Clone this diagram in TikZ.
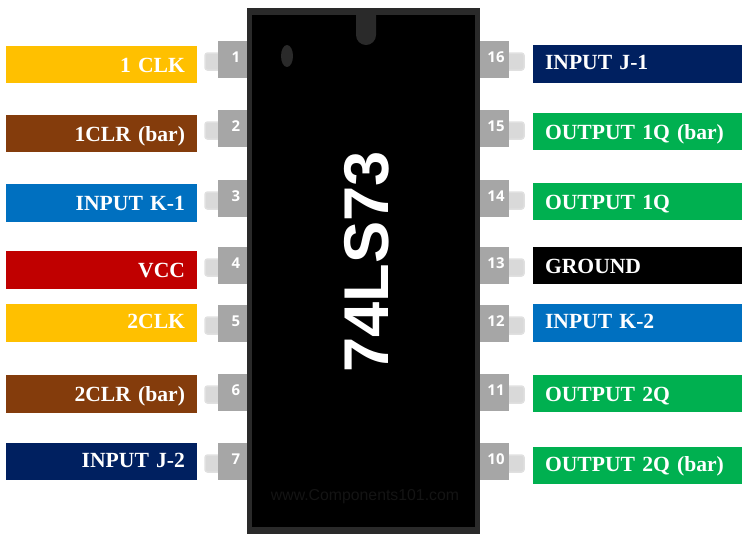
\documentclass[tikz,border=0pt]{standalone}
\usepackage{fontspec}
\setmainfont[WordSpace=0.75]{Liberation Serif}
\newfontfamily\pinfont{Open Sans}
\newfontfamily\chipfont{Liberation Sans}
\definecolor{clkyellow}{HTML}{FFC000}
\definecolor{clrbrown}{HTML}{843C0C}
\definecolor{inblue}{HTML}{0070C0}
\definecolor{vccred}{HTML}{C00000}
\definecolor{jnavy}{HTML}{002060}
\definecolor{outgreen}{HTML}{00B050}
\definecolor{pingrey}{HTML}{A6A6A6}
\definecolor{tabgrey}{HTML}{D9D9D9}
\definecolor{chipedge}{HTML}{2A2A2A}
\tikzset{
	leftlabel/.style={rectangle, inner xsep=0.24cm, inner ysep=0pt, minimum height=0.75cm, text width=3.34cm, align=right, text=white, font=\fontsize{12.3}{12.3}\selectfont\bfseries, text height=9.3pt, text depth=0.7pt},
	rightlabel/.style={leftlabel, text width=3.70cm, align=left},
	raised/.style={text height=8.2pt, text depth=1.8pt},
	pinbox/.style={fill=pingrey},
	pintab/.style={fill=tabgrey, draw=black!12, line width=0.3mm, rounded corners=0.05cm},
	pinnum/.style={text=white, font=\pinfont\fontsize{8.5}{8.5}\selectfont\bfseries, inner sep=0pt},
}
\def\leftpin(#1)(#2){
	\draw[pintab] (205, #1+12) rectangle (224, #1+29);
	\fill[pinbox] (218, #1) rectangle (247, #1+37);
	\node[pinnum] (pin#2) at (236, #1+16) {#2};
}
\def\rightpin(#1)(#2){
	\draw[pintab] (503, #1+12) rectangle (524, #1+29);
	\fill[pinbox] (480, #1) rectangle (509, #1+37);
	\node[pinnum] (pin#2) at (496, #1+16) {#2};
}

\begin{document}
\begin{tikzpicture}[x=0.02cm, y=-0.02cm]
	\useasboundingbox (0, 0) rectangle (750, 542);
	
	%%%%% CHIP %%%%%
	\fill[chipedge] (247, 8) rectangle (480, 534);
	\fill[black] (252, 15) rectangle (475, 527);
	\fill[chipedge] (356, 15) -- (356, 35) arc (180:0:10) -- (376, 15) -- cycle;
	\fill[chipedge] (287, 56) ellipse (6 and 11);
	\node[rotate=90, text=white, font=\chipfont\fontsize{36}{36}\selectfont\bfseries, inner sep=0pt] (chipname) at (367, 262) {74LS73};
	\node[text=black!92, font=\chipfont\fontsize{9}{9}\selectfont, inner sep=0pt] (website) at (365, 497) {www.Components101.com};
	
	%%%%% LEFT PINS %%%%%
	\leftpin(41)(1)
	\leftpin(110)(2)
	\leftpin(180)(3)
	\leftpin(247)(4)
	\leftpin(305)(5)
	\leftpin(374)(6)
	\leftpin(443)(7)
	
	\node[leftlabel, fill=clkyellow] (clk1) at (101.5, 64.5) {1 CLK};
	\node[leftlabel, fill=clrbrown] (clr1) at (101.5, 133.5) {1CLR (bar)};
	\node[leftlabel, fill=inblue] (k1) at (101.5, 203) {INPUT K-1};
	\node[leftlabel, fill=vccred] (vcc) at (101.5, 270) {VCC};
	\node[leftlabel, raised, fill=clkyellow] (clk2) at (101.5, 323) {2CLK};
	\node[leftlabel, fill=clrbrown] (clr2) at (101.5, 394) {2CLR (bar)};
	\node[leftlabel, raised, fill=jnavy] (j2) at (101.5, 461.5) {INPUT J-2};
	
	%%%%% RIGHT PINS %%%%%
	\rightpin(41)(16)
	\rightpin(110)(15)
	\rightpin(180)(14)
	\rightpin(247)(13)
	\rightpin(305)(12)
	\rightpin(374)(11)
	\rightpin(443)(10)
	
	\node[rightlabel, raised, fill=jnavy] (j1) at (637.5, 64) {INPUT J-1};
	\node[rightlabel, fill=outgreen] (q1bar) at (637.5, 131.5) {OUTPUT 1Q (bar)};
	\node[rightlabel, fill=outgreen] (q1) at (637.5, 201.5) {OUTPUT 1Q};
	\node[rightlabel, fill=black] (gnd) at (637.5, 265.5) {GROUND};
	\node[rightlabel, raised, fill=inblue] (k2) at (637.5, 323) {INPUT K-2};
	\node[rightlabel, fill=outgreen] (q2) at (637.5, 393.5) {OUTPUT 2Q};
	\node[rightlabel, raised, fill=outgreen] (q2bar) at (637.5, 465.5) {OUTPUT 2Q (bar)};
\end{tikzpicture}
\end{document}
